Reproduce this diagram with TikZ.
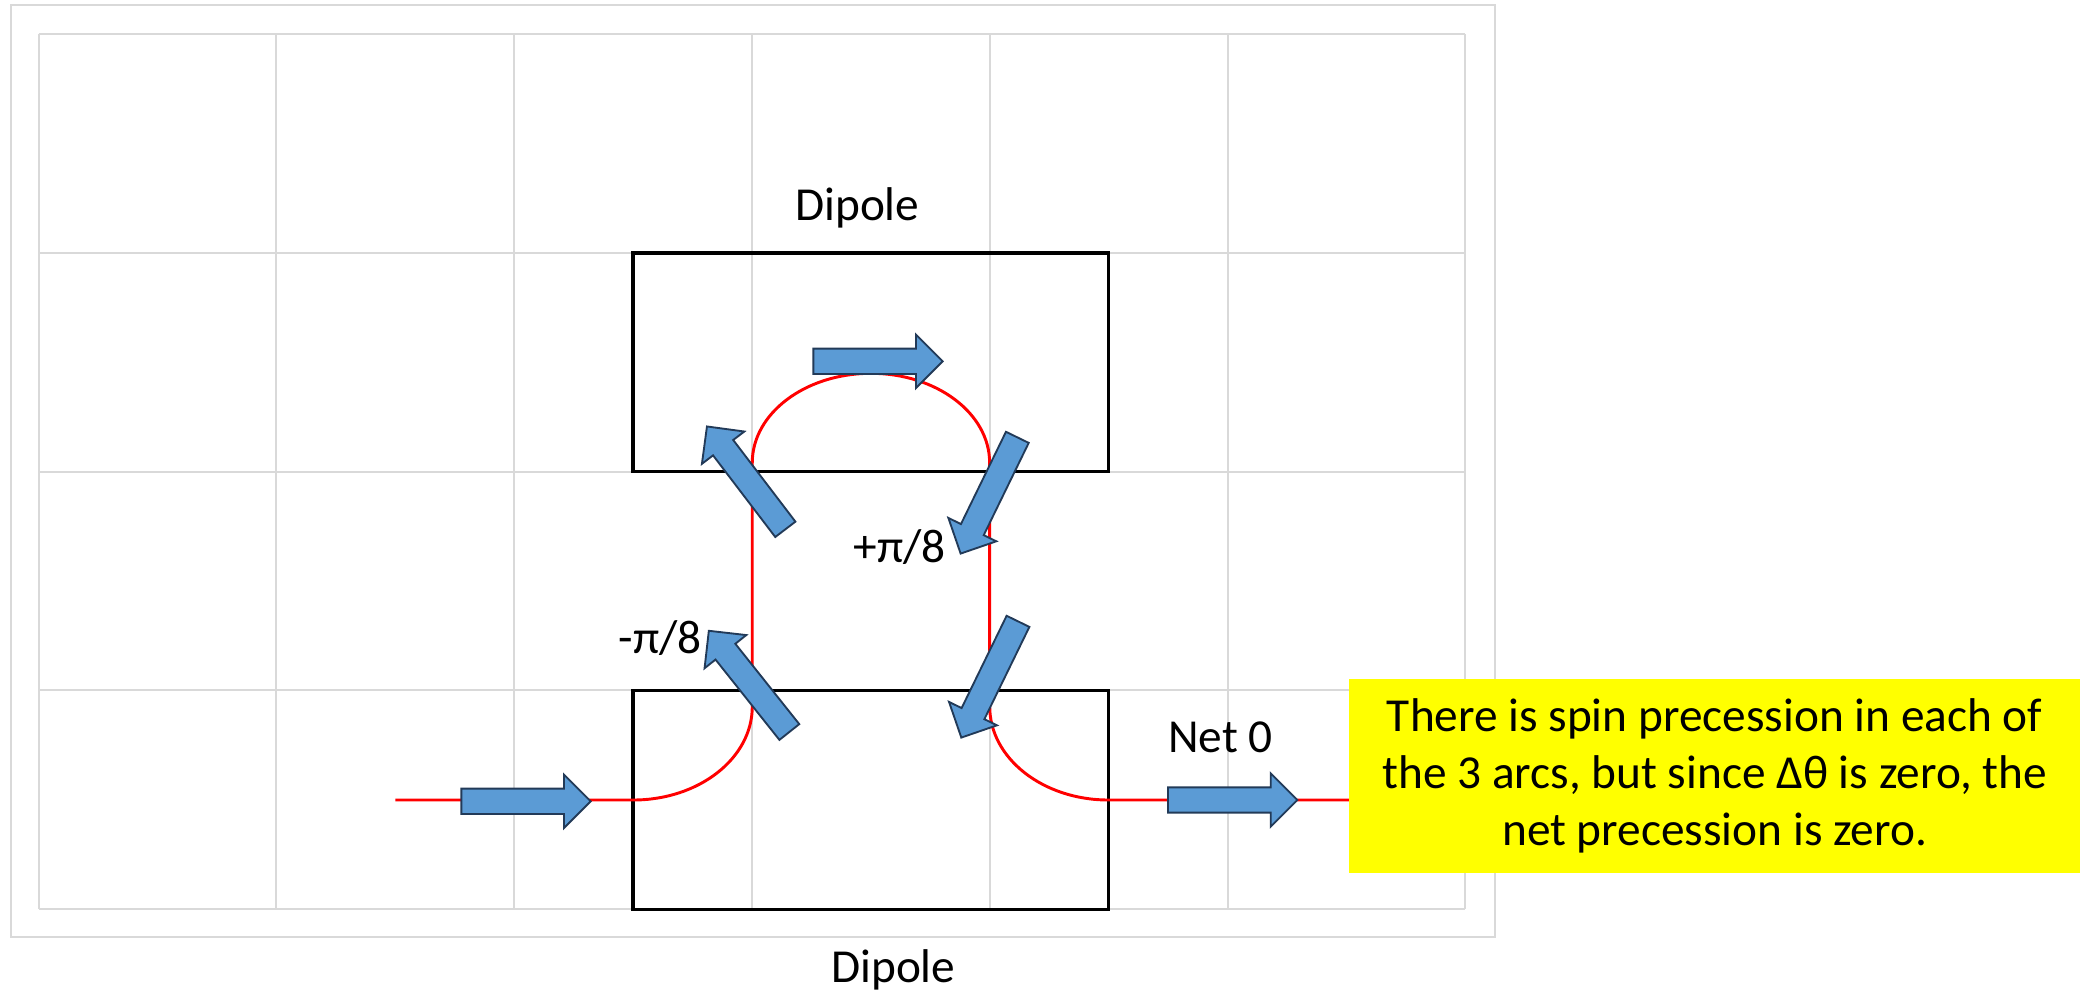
\documentclass[tikz,border=0pt]{standalone}
\usepackage{fontspec}
\setmainfont{Carlito}
\definecolor{gridgray}{RGB}{217,217,217}
\definecolor{arrowfill}{RGB}{91,155,213}
\definecolor{arrowline}{RGB}{34,58,88}
\definecolor{netred}{RGB}{255,0,0}
\definecolor{noteyellow}{RGB}{255,255,0}
\begin{document}
\begin{tikzpicture}[x=1pt,y=-1pt,
  gridline/.style={draw=gridgray,line width=1.5pt},
  dipolebox/.style={draw=black,line width=2.6pt},
  beam/.style={draw=netred,line width=2.2pt},
  arrowstyle/.style={fill=arrowfill,draw=arrowline,line width=1.4pt,line join=miter},
  lbl/.style={font=\fontsize{35.5}{42}\selectfont,inner sep=0pt},
  barrow/.pic={\draw[arrowstyle] (0,-9.5) -- (77,-9.5) -- (77,-20) -- (97,0) -- (77,20) -- (77,9.5) -- (0,9.5) -- cycle;}
]
\useasboundingbox (0,0) rectangle (1560,744);
% outer frame
\draw[gridline] (8,4) rectangle (1121,703);
% grid
\foreach \i in {0,...,6} {\draw[gridline] ({29+\i*178.33},25.5) -- ({29+\i*178.33},682);}
\foreach \j in {0,...,4} {\draw[gridline] (29,{25.5+\j*164.1}) -- (1099,{25.5+\j*164.1});}
% dipole boxes
\node[dipolebox,minimum width=356.7pt,minimum height=164.1pt,inner sep=0pt] (topbox) at (653.2,271.7) {};
\node[dipolebox,minimum width=356.7pt,minimum height=164.1pt,inner sep=0pt] (botbox) at (653.2,600) {};
% beam path
\coordinate (bstart) at (296.5,600);
\coordinate (bend) at (1099,600);
\draw[beam] (bstart) -- (475,600)
  arc[start angle=90,end angle=0,x radius=89.2,y radius=70]
  -- (564.2,347)
  arc[start angle=180,end angle=360,x radius=89,y radius=67]
  -- (742.3,530)
  arc[start angle=180,end angle=90,x radius=89,y radius=70]
  -- (bend);
% block arrows
\pic at (346,601) {barrow};
\pic at (876,600) {barrow};
\pic at (610,271) {barrow};
\pic[rotate=127.3] at (589,397) {barrow};
\pic[rotate=244] at (763,328) {barrow};
\pic[rotate=128.5] at (592,549) {barrow};
\pic[rotate=244] at (763.5,466) {barrow};
% labels
\node[lbl,anchor=base] (dtop) at (643,165) {Dipole};
\node[lbl,anchor=base] (dbot) at (670,737) {Dipole};
\node[lbl,anchor=base west] (pplus) at (640,422) {+π/8};
\node[lbl,anchor=base west] (pminus) at (464,490) {-π/8};
\node[lbl,anchor=base west] (net) at (876,564.5) {Net 0};
% note
\node[fill=noteyellow,minimum width=549pt,minimum height=146pt,inner sep=0pt,align=center,
  font=\fontsize{35.5}{43}\selectfont] (note) at (1286,582)
  {There is spin precession in each of\\the 3 arcs, but since Δθ is zero, the\\net precession is zero.};
\end{tikzpicture}
\end{document}
